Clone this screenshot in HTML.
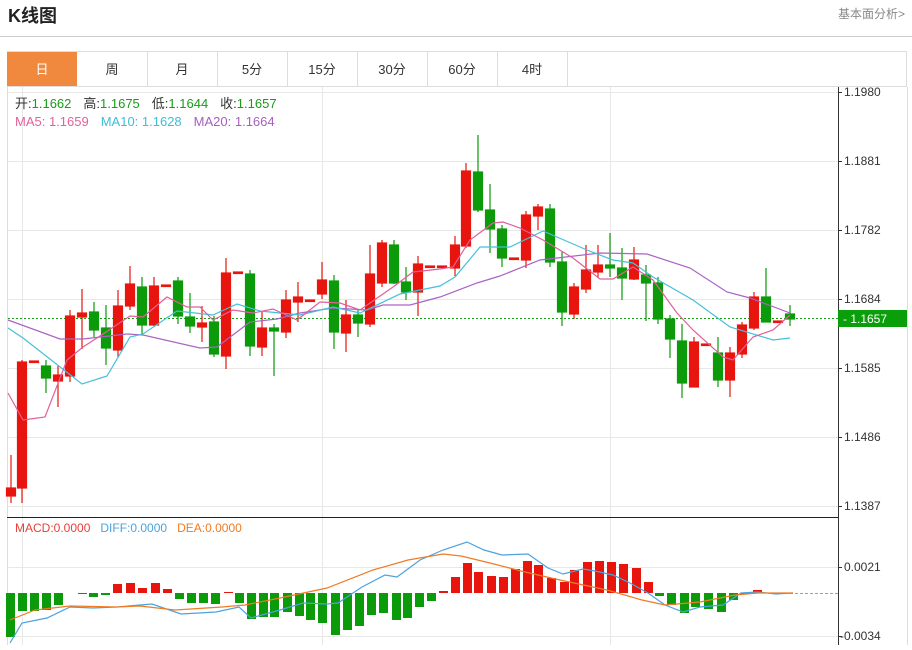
<!DOCTYPE html>
<html><head><meta charset="utf-8"><style>
body{margin:0;background:#fff;width:912px;height:645px;overflow:hidden;font-family:"Liberation Sans","Noto Sans CJK SC",sans-serif}
svg text{font-family:"Liberation Sans","Noto Sans CJK SC",sans-serif}
</style></head><body>
<svg width="912" height="645" viewBox="0 0 912 645" xmlns="http://www.w3.org/2000/svg">
<text x="8" y="22" font-size="18" font-weight="bold" fill="#222">K线图</text>
<text x="838" y="18" font-size="12" fill="#888">基本面分析&gt;</text>
<line x1="0" y1="36.5" x2="912" y2="36.5" stroke="#ccc"/>
<!-- tabs -->
<rect x="7.5" y="51.5" width="899" height="35" fill="#fff" stroke="#ddd"/>
<rect x="7" y="52" width="70" height="34" fill="#f0893e"/>
<g stroke="#ddd"><line x1="147.5" y1="52" x2="147.5" y2="86"/><line x1="217.5" y1="52" x2="217.5" y2="86"/><line x1="287.5" y1="52" x2="287.5" y2="86"/><line x1="357.5" y1="52" x2="357.5" y2="86"/><line x1="427.5" y1="52" x2="427.5" y2="86"/><line x1="497.5" y1="52" x2="497.5" y2="86"/><line x1="567.5" y1="52" x2="567.5" y2="86"/></g>
<g font-size="13" text-anchor="middle" fill="#333"><text x="42" y="74" fill="#fff">日</text><text x="112" y="74">周</text><text x="182" y="74">月</text><text x="252" y="74">5分</text><text x="322" y="74">15分</text><text x="392" y="74">30分</text><text x="462" y="74">60分</text><text x="532" y="74">4时</text></g>
<!-- chart frame -->
<line x1="7.5" y1="87" x2="7.5" y2="645" stroke="#ddd"/>
<line x1="907.5" y1="87" x2="907.5" y2="645" stroke="#ddd"/>
<!-- grid -->
<g stroke="#e8e8e8"><line x1="8" y1="92.5" x2="838" y2="92.5"/><line x1="8" y1="161.5" x2="838" y2="161.5"/><line x1="8" y1="230.5" x2="838" y2="230.5"/><line x1="8" y1="299.5" x2="838" y2="299.5"/><line x1="8" y1="368.5" x2="838" y2="368.5"/><line x1="8" y1="437.5" x2="838" y2="437.5"/><line x1="8" y1="506.5" x2="838" y2="506.5"/><line x1="8" y1="567.5" x2="838" y2="567.5"/><line x1="8" y1="636.5" x2="838" y2="636.5"/>
<line x1="22.5" y1="87" x2="22.5" y2="645"/><line x1="322.5" y1="87" x2="322.5" y2="645"/><line x1="610.5" y1="87" x2="610.5" y2="645"/></g>
<line x1="838.5" y1="87" x2="838.5" y2="645" stroke="#333"/>
<line x1="7" y1="517.5" x2="838" y2="517.5" stroke="#222"/>
<g stroke="#333"><line x1="838" y1="92.5" x2="842" y2="92.5"/><line x1="838" y1="161.5" x2="842" y2="161.5"/><line x1="838" y1="230.5" x2="842" y2="230.5"/><line x1="838" y1="299.5" x2="842" y2="299.5"/><line x1="838" y1="368.5" x2="842" y2="368.5"/><line x1="838" y1="437.5" x2="842" y2="437.5"/><line x1="838" y1="506.5" x2="842" y2="506.5"/><line x1="838" y1="567.5" x2="842" y2="567.5"/><line x1="838" y1="636.5" x2="842" y2="636.5"/></g>
<g font-size="12" fill="#333"><text x="844" y="96">1.1980</text><text x="844" y="165">1.1881</text><text x="844" y="234">1.1782</text><text x="844" y="303">1.1684</text><text x="844" y="372">1.1585</text><text x="844" y="441">1.1486</text><text x="844" y="510">1.1387</text><text x="844" y="571">0.0021</text><text x="840" y="640">-0.0034</text></g>
<line x1="8" y1="318.5" x2="838" y2="318.5" stroke="#1a9a1a" stroke-dasharray="2,2"/>
<rect x="838" y="310" width="69" height="17" fill="#0a9e0a"/>
<text x="843" y="323" font-size="12" fill="#fff">- 1.1657</text>
<!-- legend -->
<g font-size="13"><text x="15" y="108"><tspan fill="#333">开:</tspan><tspan fill="#1a9a1a">1.1662</tspan><tspan fill="#333" dx="12">高:</tspan><tspan fill="#1a9a1a">1.1675</tspan><tspan fill="#333" dx="12">低:</tspan><tspan fill="#1a9a1a">1.1644</tspan><tspan fill="#333" dx="12">收:</tspan><tspan fill="#1a9a1a">1.1657</tspan></text>
<text x="15" y="126"><tspan fill="#e4619b">MA5: 1.1659</tspan><tspan fill="#3ebed8" dx="12">MA10: 1.1628</tspan><tspan fill="#a65fc0" dx="12">MA20: 1.1664</tspan></text></g>
<g font-size="12"><text x="15" y="532"><tspan fill="#e8403a">MACD:0.0000</tspan><tspan fill="#4aa3e0" dx="10">DIFF:0.0000</tspan><tspan fill="#f07b24" dx="10">DEA:0.0000</tspan></text></g>
<!-- candles -->
<g stroke-width="1.2">
<g stroke="#e8140e" fill="#e8140e">
<line x1="11" y1="455" x2="11" y2="503"/><rect x="6.5" y="488" width="9" height="8"/>
<line x1="22" y1="360" x2="22" y2="503"/><rect x="17.5" y="362" width="9" height="126"/>
<rect x="29.5" y="361" width="9" height="1.5"/>
<line x1="58" y1="366" x2="58" y2="407"/><rect x="53.5" y="375" width="9" height="6"/>
<line x1="70" y1="310" x2="70" y2="382"/><rect x="65.5" y="316" width="9" height="60"/>
<line x1="82" y1="289" x2="82" y2="349"/><rect x="77.5" y="313" width="9" height="4"/>
<line x1="118" y1="290" x2="118" y2="357"/><rect x="113.5" y="306" width="9" height="44"/>
<line x1="130" y1="266" x2="130" y2="310"/><rect x="125.5" y="284" width="9" height="22"/>
<line x1="154" y1="277" x2="154" y2="326"/><rect x="149.5" y="286" width="9" height="39"/>
<rect x="161.5" y="285" width="9" height="1.5"/>
<line x1="202" y1="306" x2="202" y2="342"/><rect x="197.5" y="323" width="9" height="4"/>
<line x1="226" y1="258" x2="226" y2="369"/><rect x="221.5" y="273" width="9" height="83"/>
<rect x="233.5" y="272" width="9" height="1.5"/>
<line x1="262" y1="312" x2="262" y2="356"/><rect x="257.5" y="328" width="9" height="19"/>
<line x1="286" y1="290" x2="286" y2="338"/><rect x="281.5" y="300" width="9" height="32"/>
<line x1="298" y1="282" x2="298" y2="322"/><rect x="293.5" y="297" width="9" height="5"/>
<rect x="305.5" y="300" width="9" height="1.5"/>
<line x1="322" y1="262" x2="322" y2="299"/><rect x="317.5" y="280" width="9" height="14"/>
<line x1="346" y1="300" x2="346" y2="352"/><rect x="341.5" y="315" width="9" height="18"/>
<line x1="370" y1="245" x2="370" y2="327"/><rect x="365.5" y="274" width="9" height="50"/>
<line x1="382" y1="240" x2="382" y2="287"/><rect x="377.5" y="243" width="9" height="40"/>
<line x1="418" y1="256" x2="418" y2="316"/><rect x="413.5" y="264" width="9" height="28"/>
<rect x="425.5" y="266" width="9" height="1.5"/><rect x="437.5" y="266" width="9" height="1.5"/>
<line x1="455" y1="236" x2="455" y2="276"/><rect x="450.5" y="245" width="9" height="23"/>
<line x1="466" y1="163" x2="466" y2="248"/><rect x="461.5" y="171" width="9" height="75"/>
<rect x="509.5" y="258" width="9" height="1.5"/>
<line x1="526" y1="211" x2="526" y2="268"/><rect x="521.5" y="215" width="9" height="45"/>
<line x1="538" y1="204" x2="538" y2="230"/><rect x="533.5" y="207" width="9" height="9"/>
<line x1="574" y1="283" x2="574" y2="319"/><rect x="569.5" y="287" width="9" height="27"/>
<line x1="586" y1="245" x2="586" y2="293"/><rect x="581.5" y="270" width="9" height="19"/>
<line x1="598" y1="245" x2="598" y2="278"/><rect x="593.5" y="265" width="9" height="7"/>
<line x1="634" y1="247" x2="634" y2="280"/><rect x="629.5" y="260" width="9" height="19"/>
<line x1="694" y1="337" x2="694" y2="387"/><rect x="689.5" y="342" width="9" height="45"/>
<rect x="701.5" y="344" width="9" height="1.5"/>
<line x1="730" y1="347" x2="730" y2="397"/><rect x="725.5" y="353" width="9" height="27"/>
<line x1="742" y1="322" x2="742" y2="358"/><rect x="737.5" y="325" width="9" height="29"/>
<line x1="754" y1="292" x2="754" y2="330"/><rect x="749.5" y="297" width="9" height="31"/>
<rect x="773.5" y="321" width="9" height="1.5"/>
</g>
<g stroke="#0a9a0a" fill="#0a9a0a">
<line x1="46" y1="360" x2="46" y2="393"/><rect x="41.5" y="366" width="9" height="12"/>
<line x1="94" y1="302" x2="94" y2="337"/><rect x="89.5" y="312" width="9" height="18"/>
<line x1="106" y1="305" x2="106" y2="365"/><rect x="101.5" y="328" width="9" height="20"/>
<line x1="142" y1="277" x2="142" y2="335"/><rect x="137.5" y="287" width="9" height="38"/>
<line x1="178" y1="277" x2="178" y2="324"/><rect x="173.5" y="281" width="9" height="35"/>
<line x1="190" y1="293" x2="190" y2="333"/><rect x="185.5" y="317" width="9" height="9"/>
<line x1="214" y1="316" x2="214" y2="357"/><rect x="209.5" y="322" width="9" height="32"/>
<line x1="250" y1="270" x2="250" y2="356"/><rect x="245.5" y="274" width="9" height="72"/>
<line x1="274" y1="324" x2="274" y2="376"/><rect x="269.5" y="328" width="9" height="3"/>
<line x1="334" y1="275" x2="334" y2="349"/><rect x="329.5" y="281" width="9" height="51"/>
<line x1="358" y1="309" x2="358" y2="337"/><rect x="353.5" y="315" width="9" height="8"/>
<line x1="394" y1="240" x2="394" y2="284"/><rect x="389.5" y="245" width="9" height="38"/>
<line x1="406" y1="267" x2="406" y2="300"/><rect x="401.5" y="282" width="9" height="10"/>
<line x1="478" y1="135" x2="478" y2="212"/><rect x="473.5" y="172" width="9" height="38"/>
<line x1="490" y1="184" x2="490" y2="253"/><rect x="485.5" y="210" width="9" height="19"/>
<line x1="502" y1="225" x2="502" y2="267"/><rect x="497.5" y="229" width="9" height="29"/>
<line x1="550" y1="204" x2="550" y2="267"/><rect x="545.5" y="209" width="9" height="53"/>
<line x1="562" y1="252" x2="562" y2="326"/><rect x="557.5" y="262" width="9" height="50"/>
<line x1="610" y1="233" x2="610" y2="277"/><rect x="605.5" y="265" width="9" height="3"/>
<line x1="622" y1="248" x2="622" y2="300"/><rect x="617.5" y="268" width="9" height="10"/>
<line x1="646" y1="265" x2="646" y2="321"/><rect x="641.5" y="275" width="9" height="8"/>
<line x1="658" y1="277" x2="658" y2="324"/><rect x="653.5" y="283" width="9" height="36"/>
<line x1="670" y1="315" x2="670" y2="358"/><rect x="665.5" y="319" width="9" height="20"/>
<line x1="682" y1="324" x2="682" y2="398"/><rect x="677.5" y="341" width="9" height="42"/>
<line x1="718" y1="337" x2="718" y2="387"/><rect x="713.5" y="353" width="9" height="27"/>
<line x1="766" y1="268" x2="766" y2="322"/><rect x="761.5" y="297" width="9" height="25"/>
<line x1="790" y1="305" x2="790" y2="326"/><rect x="785.5" y="314" width="9" height="5"/>
</g></g>
<!-- MAs -->
<g fill="none" stroke-width="1.2">
<polyline stroke="#a964c4" points="8,320 60,339 83,339 127,334 143,335 200,348 217,347 250,322 277,319 300,313 333,308 367,310 383,305 410,305 440,297 477,283 500,276 540,260 600,253 647,254 690,268 727,292 750,298 790,313"/>
<polyline stroke="#45c0d8" points="8,328 23,338 82,384 107,376 130,337 143,334 177,311 213,315 237,304 260,311 300,315 333,307 360,313 400,294 440,286 455,277 480,247 510,247 543,231 587,250 613,260 633,263 653,277 693,300 730,327 773,340 790,338"/>
<polyline stroke="#e0609a" points="8,393 23,420 45,417 67,360 83,347 100,336 130,316 143,317 167,297 187,307 200,307 213,320 233,310 253,313 273,309 297,320 320,302 340,303 360,310 393,287 413,272 440,269 453,267 470,240 493,223 503,222 520,228 543,240 573,258 600,279 613,279 633,267 653,280 677,313 693,330 723,357 733,360 753,337 773,330 790,315"/>
</g>
<!-- MACD bars -->
<line x1="790" y1="593.5" x2="838" y2="593.5" stroke="#7ac" stroke-dasharray="3,2"/>
<g fill="#0a9a0a">
<rect x="6" y="593" width="9" height="44"/><rect x="18" y="593" width="9" height="18"/><rect x="30" y="593" width="9" height="18"/><rect x="42" y="593" width="9" height="17"/><rect x="54" y="593" width="9" height="12"/><rect x="78" y="593" width="9" height="1"/><rect x="89" y="593" width="9" height="4"/><rect x="101" y="593" width="9" height="2"/>
<rect x="175" y="593" width="9" height="6"/><rect x="187" y="593" width="9" height="10"/><rect x="199" y="593" width="9" height="10"/><rect x="211" y="593" width="9" height="11"/>
<rect x="235" y="593" width="9" height="10"/><rect x="247" y="593" width="9" height="26"/><rect x="259" y="593" width="9" height="24"/><rect x="270" y="593" width="9" height="24"/><rect x="283" y="593" width="9" height="19"/><rect x="295" y="593" width="9" height="23"/><rect x="306" y="593" width="9" height="27"/><rect x="318" y="593" width="9" height="30"/><rect x="331" y="593" width="9" height="42"/><rect x="343" y="593" width="9" height="37"/><rect x="355" y="593" width="9" height="33"/><rect x="367" y="593" width="9" height="22"/><rect x="379" y="593" width="9" height="20"/><rect x="392" y="593" width="9" height="27"/><rect x="403" y="593" width="9" height="25"/><rect x="415" y="593" width="9" height="14"/><rect x="427" y="593" width="9" height="8"/>
<rect x="655" y="593" width="9" height="3"/><rect x="667" y="593" width="9" height="12"/><rect x="680" y="593" width="9" height="20"/><rect x="691" y="593" width="9" height="14"/><rect x="704" y="593" width="9" height="16"/><rect x="717" y="593" width="9" height="19"/><rect x="729" y="593" width="9" height="7"/><rect x="741" y="593" width="9" height="1"/>
</g>
<g fill="#e8140e">
<rect x="113" y="584" width="9" height="9"/><rect x="126" y="583" width="9" height="10"/><rect x="138" y="588" width="9" height="5"/><rect x="151" y="583" width="9" height="10"/><rect x="163" y="589" width="9" height="4"/><rect x="224" y="592" width="9" height="1"/>
<rect x="439" y="591" width="9" height="2"/><rect x="451" y="577" width="9" height="16"/><rect x="463" y="563" width="9" height="30"/><rect x="474" y="572" width="9" height="21"/><rect x="487" y="576" width="9" height="17"/><rect x="499" y="577" width="9" height="16"/><rect x="511" y="569" width="9" height="24"/><rect x="523" y="561" width="9" height="32"/><rect x="534" y="565" width="9" height="28"/><rect x="547" y="578" width="9" height="15"/><rect x="560" y="582" width="9" height="11"/><rect x="570" y="570" width="9" height="23"/><rect x="583" y="562" width="9" height="31"/><rect x="595" y="561" width="9" height="32"/><rect x="607" y="562" width="9" height="31"/><rect x="619" y="564" width="9" height="29"/><rect x="632" y="568" width="9" height="25"/><rect x="644" y="582" width="9" height="11"/>
<rect x="753" y="590" width="9" height="3"/>
</g>
<g fill="none" stroke-width="1.2">
<polyline stroke="#4aa3e0" points="10,643 22,623 47,618 70,607 93,608 117,607 152,604 181,614 216,612 239,607 251,618 280,610 303,603 327,604 338,603 362,587 385,575 397,577 420,560 443,550 467,542 484,550 502,555 528,554 548,568 563,574 583,569 595,571 613,575 630,583 648,593 665,605 683,612 700,607 723,605 741,593 758,592 776,594 793,593"/>
<polyline stroke="#f07b24" points="10,620 35,610 70,606 117,607 140,606 175,610 222,607 245,605 280,598 327,588 373,570 408,560 443,554 461,556 490,563 525,572 560,580 607,590 642,600 665,605 700,602 735,595 758,593 793,593"/>
</g>
</svg>
</body></html>
